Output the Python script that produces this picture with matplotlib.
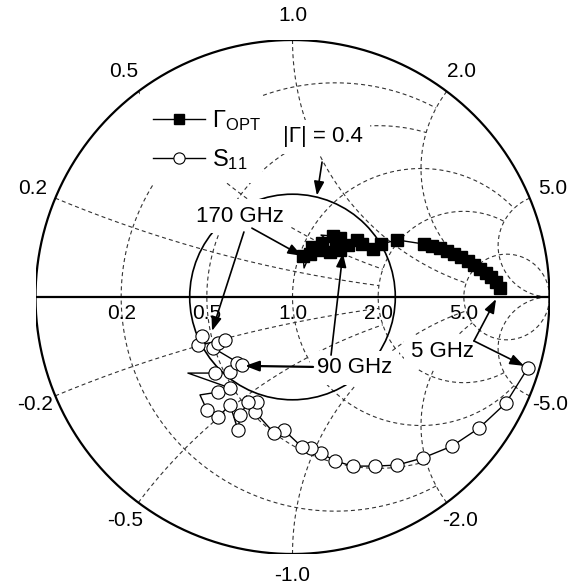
import numpy as np
import matplotlib
matplotlib.use('Agg')
import matplotlib.pyplot as plt
from matplotlib.patches import Rectangle, Circle

plt.rcParams['font.family'] = ['Liberation Sans', 'DejaVu Sans']
plt.rcParams['mathtext.fontset'] = 'custom'
plt.rcParams['mathtext.rm'] = 'Liberation Sans'
plt.rcParams['mathtext.it'] = 'Liberation Sans:italic'
plt.rcParams['mathtext.bf'] = 'Liberation Sans:bold'

# Smith chart grid values, and up to where each grid line is drawn
grid_vals = [0.2, 0.5, 1.0, 2.0, 5.0]
grid_stop = [2.0, 2.0, 5.0, 5.0, np.inf]
r_labels = ['0.2', '0.5', '1.0', '2.0', '5.0']
xp_labels = ['0.2', '0.5', '1.0', '2.0', '5.0']
xn_labels = ['-0.2', '-0.5', '-1.0', '-2.0', '-5.0']
gamma_mag = 0.4

# Gamma_OPT, 5 GHz -> 170 GHz (reflection coefficient, real / imag)
gopt_re = [0.807, 0.792, 0.772, 0.753, 0.730, 0.706, 0.683, 0.656, 0.628, 0.601,
           0.574, 0.543, 0.512, 0.407, 0.344, 0.313, 0.270, 0.251, 0.216, 0.185,
           0.185, 0.158, 0.111, 0.169, 0.146, 0.115, 0.099, 0.076, 0.068, 0.045, 0.041]
gopt_im = [0.035, 0.058, 0.078, 0.093, 0.109, 0.125, 0.140, 0.156, 0.167, 0.179,
           0.191, 0.198, 0.206, 0.222, 0.206, 0.187, 0.206, 0.222, 0.202, 0.183,
           0.230, 0.237, 0.241, 0.198, 0.175, 0.210, 0.183, 0.195, 0.167, 0.113, 0.160]
gopt_mark = [1, 1, 1, 1, 1, 1, 1, 1, 1, 1,
             1, 1, 1, 1, 1, 1, 1, 1, 1, 1,
             1, 1, 0, 1, 1, 1, 1, 1, 1, 0, 1]

# S11, 5 GHz -> 170 GHz
s11_re = [0.916, 0.831, 0.726, 0.621, 0.508, 0.407, 0.321, 0.235, 0.165, 0.111,
          0.072, 0.037, -0.033, -0.072, -0.146, -0.138, -0.173, -0.204, -0.212, -0.243,
          -0.290, -0.333, -0.360, -0.290, -0.243, -0.407, -0.302, -0.243, -0.216, -0.196,
          -0.309, -0.290, -0.263, -0.368, -0.352]
s11_im = [-0.276, -0.412, -0.510, -0.580, -0.626, -0.654, -0.658, -0.658, -0.638, -0.607,
          -0.588, -0.584, -0.518, -0.529, -0.447, -0.409, -0.409, -0.459, -0.518, -0.420,
          -0.467, -0.440, -0.381, -0.370, -0.354, -0.296, -0.296, -0.292, -0.257, -0.265,
          -0.198, -0.179, -0.167, -0.187, -0.152]
s11_mark = [1, 1, 1, 1, 1, 1, 1, 1, 1, 1,
            1, 1, 1, 1, 1, 1, 1, 1, 1, 1,
            1, 1, 0, 1, 1, 0, 1, 1, 1, 1,
            1, 1, 1, 1, 1]


def gam(z):
    return (z - 1) / (z + 1)


fig = plt.figure(figsize=(5.7, 5.87), dpi=100)
ax = fig.add_axes([35.5 / 570, 33 / 587, 514 / 570, 514 / 587])
ax.set_xlim(-1, 1)
ax.set_ylim(-1, 1)
ax.axis('off')

gkw = dict(color='0.2', lw=0.8, ls=(0, (3.6, 2.8)), zorder=1)
for v, stop in zip(grid_vals, grid_stop):
    # resistance circle
    if np.isinf(stop):
        t = np.linspace(0, 2 * np.pi, 800)
        c, rad = v / (1 + v), 1 / (1 + v)
        ax.plot(c + rad * np.cos(t), rad * np.sin(t), **gkw)
    else:
        xx = np.linspace(-stop, stop, 2000)
        g = gam(v + 1j * xx)
        ax.plot(g.real, g.imag, **gkw)
    # reactance arcs
    if np.isinf(stop):
        rr = np.concatenate([np.linspace(0, 5, 600), np.geomspace(5, 1e4, 600)])
    else:
        rr = np.linspace(0, stop, 1500)
    for s in (1, -1):
        g = gam(rr + 1j * s * v)
        ax.plot(g.real, g.imag, **gkw)

# outer circle and real axis
t = np.linspace(0, 2 * np.pi, 800)
ax.plot(np.cos(t), np.sin(t), color='k', lw=1.6, zorder=7)
ax.plot([-1, 1], [0, 0], color='k', lw=1.6, zorder=7)

# labels
for v, lab in zip(grid_vals, r_labels):
    ax.text(gam(v).real, -0.066, lab, fontsize=15, ha='center', va='center', zorder=8)
for v, lp, ln in zip(grid_vals, xp_labels, xn_labels):
    g = gam(1j * v)
    ax.text(1.095 * g.real, 1.095 * g.imag, lp, fontsize=15, ha='center', va='center')
    ax.text(1.085 * g.real, -1.085 * g.imag, ln, fontsize=15, ha='center', va='center')

# white area behind legend
ax.add_patch(Rectangle((-0.595, 0.444), 0.476, 0.356, fc='white', ec='none', zorder=2))

# |Gamma| = 0.4 circle
ax.add_patch(Circle((0, 0), gamma_mag, fill=False, ec='k', lw=1.2, zorder=2.5))

# data
gre, gim, gm = np.array(gopt_re), np.array(gopt_im), np.array(gopt_mark, bool)
sre, sim, sm = np.array(s11_re), np.array(s11_im), np.array(s11_mark, bool)
l1, = ax.plot(gre, gim, color='k', lw=1.0, zorder=4)
m1, = ax.plot(gre[gm], gim[gm], ls='none', marker='s', ms=8.5, mfc='k', mec='k', zorder=5)
l2, = ax.plot(sre, sim, color='k', lw=1.0, zorder=4)
m2, = ax.plot(sre[sm], sim[sm], ls='none', marker='o', ms=9.5, mfc='white', mec='k',
              mew=0.8, zorder=5)

leg = ax.legend([(l1, m1), (l2, m2)], [r'$\Gamma_{\mathrm{OPT}}$', r'$\mathrm{S}_{11}$'],
                loc='upper left', bbox_to_anchor=(0.228, 0.868), frameon=False,
                fontsize=17, handlelength=2.2, handletextpad=0.3, labelspacing=0.62,
                numpoints=1, borderpad=0, borderaxespad=0, markerscale=0.85)
leg.set_zorder(9)

# annotations
tkw = dict(fontsize=16, ha='center', va='center', zorder=3,
           bbox=dict(fc='white', ec='none', pad=5))
akw = dict(arrowstyle='-|>,head_length=0.6,head_width=0.22', color='k', lw=1.2,
           mutation_scale=14, shrinkA=0, shrinkB=0)

ax.text(0.119, 0.623, '|Γ| = 0.4', **tkw)
ax.annotate('', xy=(0.095, 0.395), xytext=(0.115, 0.525), arrowprops=akw, zorder=6)

ax.text(-0.204, 0.315, '170 GHz', **tkw)
ax.annotate('', xy=(0.037, 0.160), xytext=(-0.158, 0.268), arrowprops=akw, zorder=6)
ax.annotate('', xy=(-0.313, -0.132), xytext=(-0.189, 0.253), arrowprops=akw, zorder=6)

ax.text(0.243, -0.276, '90 GHz', **tkw)
ax.annotate('', xy=(-0.185, -0.268), xytext=(0.080, -0.272),
            arrowprops=dict(akw, lw=1.6), zorder=6)
ax.annotate('', xy=(0.196, 0.171), xytext=(0.150, -0.226), arrowprops=akw, zorder=6)

ax.text(0.582, -0.214, '5 GHz', **tkw)
ax.annotate('', xy=(0.792, -0.008), xytext=(0.706, -0.171), arrowprops=akw, zorder=6)
ax.annotate('', xy=(0.901, -0.268), xytext=(0.706, -0.171), arrowprops=akw, zorder=6)

fig.savefig('out.png', dpi=100, facecolor='white')
